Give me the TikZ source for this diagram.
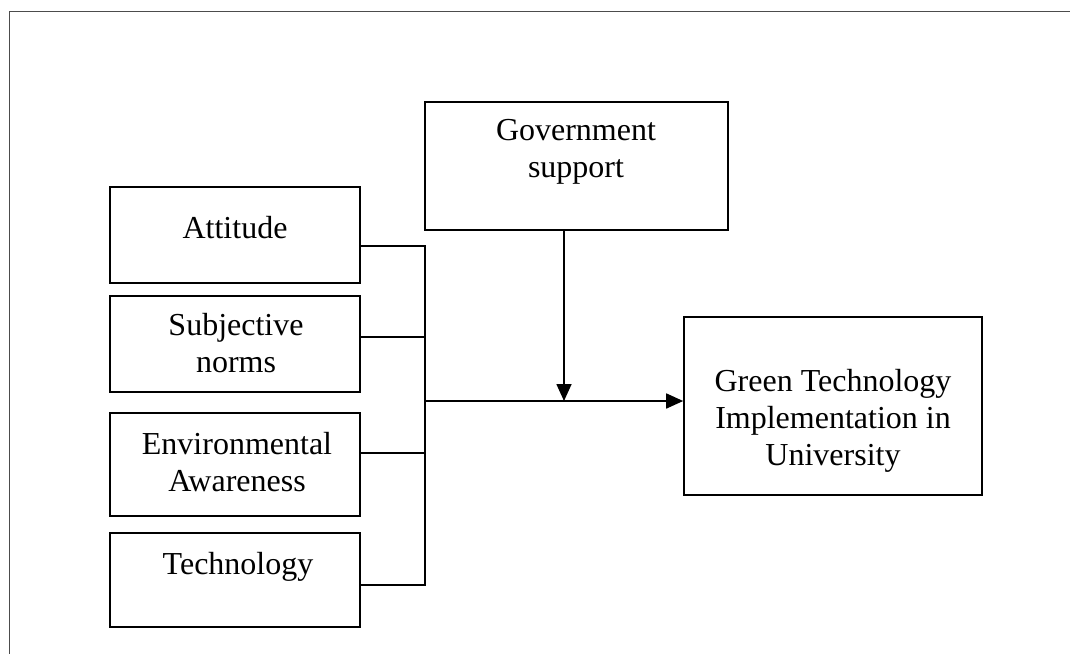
\documentclass[tikz,border=0pt]{standalone}
\usepackage{fontspec}
\setmainfont{Liberation Serif}
\usetikzlibrary{arrows.meta}

\begin{document}
\begin{tikzpicture}[x=1pt,y=-1pt,
  box/.style={draw, line width=1.6pt, inner sep=0pt, minimum width=#1},
  box/.default=250pt,
  txt/.style={font=\fontsize{32}{37}\selectfont, align=center, anchor=base, inner sep=0pt},
  wire/.style={line width=1.6pt},
  arrow/.style={line width=1.6pt, -{Triangle[length=17pt,width=15pt]}},
  frame/.style={line width=1pt, draw=black!70}]

  \useasboundingbox (0,0) rectangle (1070,654);

  % outer frame (only top and left edges fall inside the page)
  \draw[frame] (1070,11) -- (9,11) -- (9,654);

  % factor boxes on the left
  \node[box, minimum height=96pt]  (att)  at (235,235)   {};
  \node[box, minimum height=96pt]  (subj) at (235,344)   {};
  \node[box, minimum height=103pt] (env)  at (235,464.5) {};
  \node[box, minimum height=94pt]  (tech) at (235,580)   {};

  % moderator and outcome
  \node[box=303pt, minimum height=128pt] (gov)   at (576.5,166) {};
  \node[box=298pt, minimum height=178pt] (green) at (833,406)   {};

  % labels (base anchor sits on the last line)
  \node[txt] (attT)   at (235,238) {Attitude};
  \node[txt] (subjT)  at (236,372) {Subjective\\norms};
  \node[txt] (envT)   at (237,491) {Environmental\\Awareness};
  \node[txt] (techT)  at (238,574) {Technology};
  \node[txt] (govT)   at (576,177) {Government\\support};
  \node[txt] (greenT) at (833,465) {Green Technology\\Implementation in\\University};

  % collecting bus
  \coordinate (bus) at (425,401);
  \draw[wire] ([yshift=-11pt]att.east) -| (bus);
  \draw[wire] ([yshift=-5pt]tech.east) -| (bus);
  \draw[wire] ([yshift=7pt]subj.east) -- ([yshift=7pt]subj.east -| bus);
  \draw[wire] ([yshift=11.5pt]env.east) -- ([yshift=11.5pt]env.east -| bus);

  % arrows
  \draw[arrow] (bus) -- (bus -| green.west);
  \draw[arrow] ([xshift=-12.5pt]gov.south) -- ([xshift=-12.5pt]gov.south |- bus);
\end{tikzpicture}
\end{document}
